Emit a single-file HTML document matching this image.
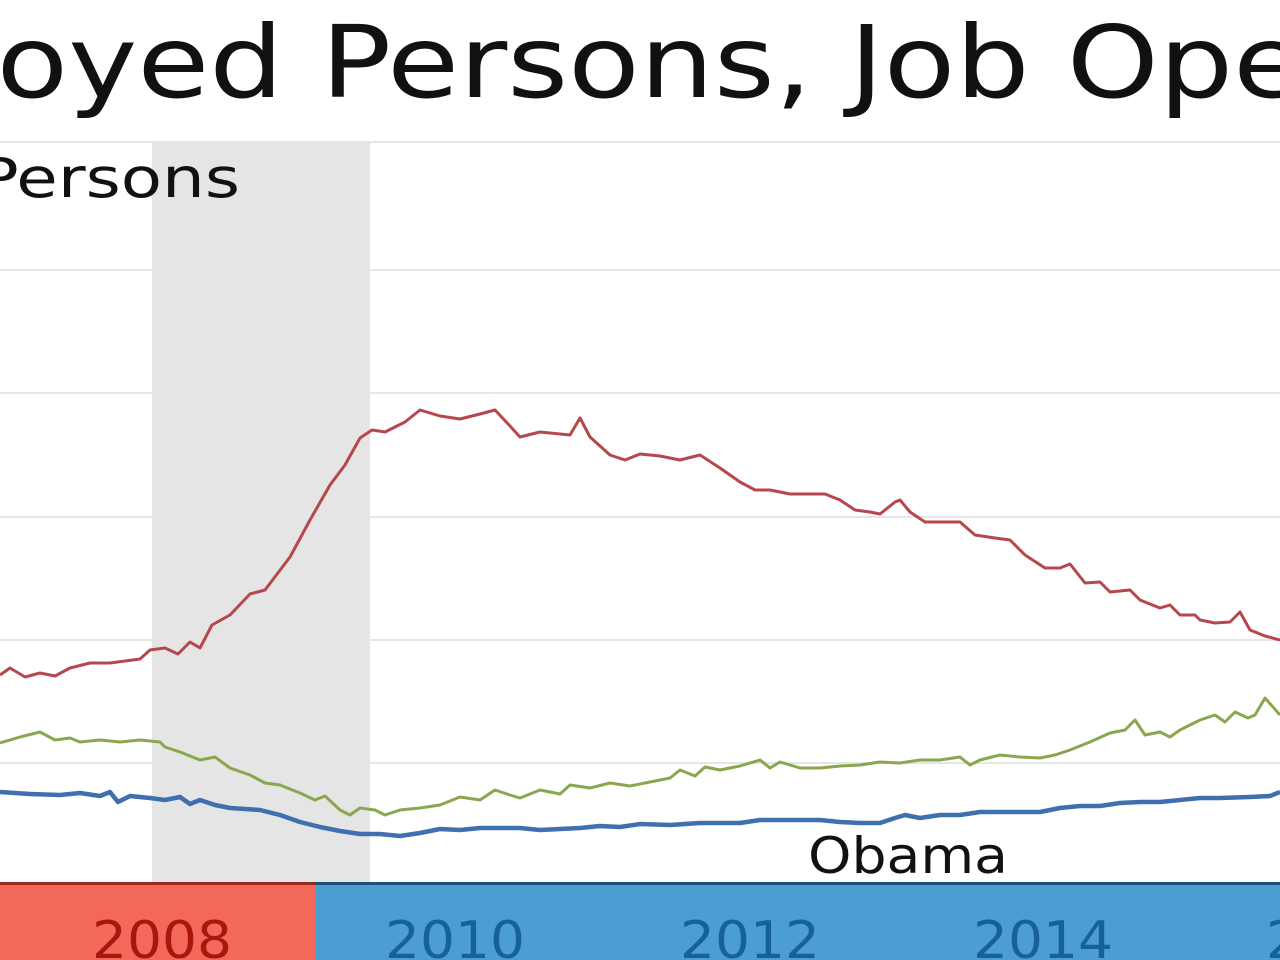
<!DOCTYPE html>
<html><head><meta charset="utf-8"><style>
html,body{margin:0;padding:0;background:#fff;width:1280px;height:960px;overflow:hidden}
</style></head><body>
<svg width="1280" height="960" xmlns="http://www.w3.org/2000/svg" font-family="DejaVu Sans, Verdana, sans-serif">
<rect width="1280" height="960" fill="#fff"/>
<text transform="scale(1.17,1)" x="-3" y="97" font-size="100" fill="#111">oyed Persons, Job Openings</text>
<rect x="152" y="142" width="218" height="740" fill="#e5e5e5"/>
<g stroke="#e6e6e6" stroke-width="2">
<line x1="0" y1="142" x2="1280" y2="142"/>
<line x1="0" y1="270" x2="1280" y2="270"/>
<line x1="0" y1="393" x2="1280" y2="393"/>
<line x1="0" y1="517" x2="1280" y2="517"/>
<line x1="0" y1="640" x2="1280" y2="640"/>
<line x1="0" y1="763" x2="1280" y2="763"/>
</g>
<text x="-22" y="197" font-size="55" fill="#111" textLength="262" lengthAdjust="spacingAndGlyphs">Persons</text>
<polyline fill="none" stroke="#b5474d" stroke-width="3" stroke-linejoin="round" points="0,675 10,668 25,677 40,673 55,676 70,668 90,663 110,663 140,659 150,650 165,648 178,654 190,642 200,648 212,625 230,615 250,594 265,590 290,557 310,520 330,485 345,465 360,438 372,430 385,432 405,422 420,410 440,416 460,419 480,414 495,410 510,426 520,437 540,432 560,434 570,435 580,418 590,437 610,455 625,460 640,454 660,456 680,460 700,455 720,468 740,482 755,490 770,490 790,494 810,494 825,494 840,500 855,510 870,512 880,514 895,502 900,500 910,512 925,522 940,522 960,522 975,535 995,538 1010,540 1025,555 1045,568 1060,568 1070,564 1085,583 1100,582 1110,592 1130,590 1140,600 1160,608 1170,605 1180,615 1195,615 1200,620 1215,623 1230,622 1240,612 1250,630 1265,636 1280,640"/>
<polyline fill="none" stroke="#8aa64e" stroke-width="3" stroke-linejoin="round" points="0,743 20,737 40,732 55,740 70,738 80,742 100,740 120,742 140,740 160,742 165,747 180,752 200,760 215,757 230,768 250,775 265,783 280,785 300,793 315,800 325,796 340,810 350,815 360,808 375,810 385,815 400,810 420,808 440,805 460,797 480,800 495,790 510,795 520,798 540,790 560,794 570,785 590,788 610,783 630,786 650,782 670,778 680,770 695,776 705,767 720,770 740,766 760,760 770,768 780,762 800,768 820,768 840,766 860,765 880,762 900,763 920,760 940,760 960,757 970,765 980,760 1000,755 1020,757 1040,758 1055,755 1070,750 1090,742 1110,733 1125,730 1135,720 1145,735 1160,732 1170,737 1180,730 1200,720 1215,715 1225,722 1235,712 1248,718 1255,715 1265,698 1280,715"/>
<polyline fill="none" stroke="#3f6fae" stroke-width="4.5" stroke-linejoin="round" points="0,792 30,794 60,795 80,793 100,796 110,792 118,802 130,796 150,798 165,800 180,797 190,804 200,800 215,805 230,808 260,810 280,815 300,822 320,827 340,831 360,834 380,834 400,836 420,833 440,829 460,830 480,828 520,828 540,830 560,829 580,828 600,826 620,827 640,824 670,825 700,823 740,823 760,820 780,820 800,820 820,820 840,822 860,823 880,823 895,818 905,815 920,818 940,815 960,815 980,812 1000,812 1020,812 1040,812 1060,808 1080,806 1100,806 1120,803 1140,802 1160,802 1180,800 1200,798 1220,798 1250,797 1270,796 1280,792"/>
<text x="808" y="873" font-size="50" fill="#111" textLength="200" lengthAdjust="spacingAndGlyphs">Obama</text>
<rect x="0" y="882" width="316" height="78" fill="#f2695a"/>
<rect x="316" y="882" width="964" height="78" fill="#4b9dd2"/>
<rect x="0" y="882" width="316" height="3" fill="#9a2a20"/>
<rect x="316" y="882" width="964" height="3" fill="#1f4f78"/>
<g font-size="52">
<text x="92" y="958" fill="#a8160e" textLength="140" lengthAdjust="spacingAndGlyphs">2008</text>
<text x="385" y="958" fill="#17609a" textLength="140" lengthAdjust="spacingAndGlyphs">2010</text>
<text x="680" y="958" fill="#17609a" textLength="140" lengthAdjust="spacingAndGlyphs">2012</text>
<text x="973" y="958" fill="#17609a" textLength="140" lengthAdjust="spacingAndGlyphs">2014</text>
<text x="1266" y="958" fill="#17609a" textLength="140" lengthAdjust="spacingAndGlyphs">2016</text>
</g>
</svg>
</body></html>
